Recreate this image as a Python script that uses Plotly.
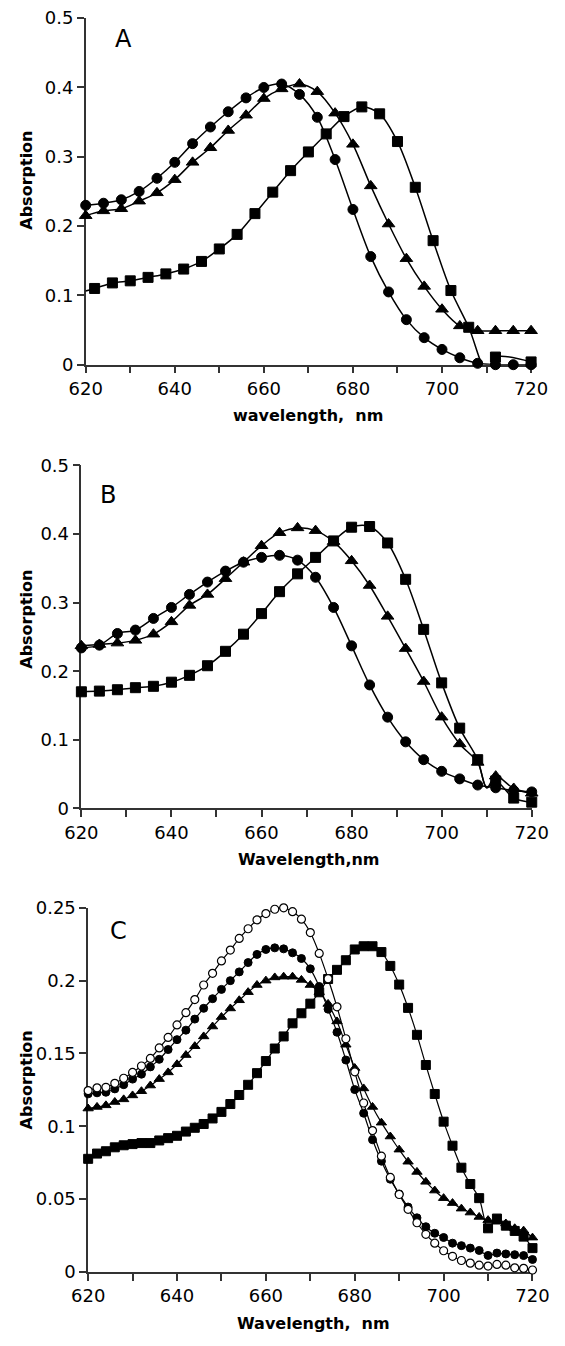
import plotly.graph_objects as go

W, H = 565, 1346

# ---------------- Panel A (every 4 nm) ----------------
wl_A = list(range(620, 721, 4))
A_circles = [0.230, 0.233, 0.238, 0.250, 0.269, 0.292, 0.319, 0.343, 0.365, 0.385,
             0.400, 0.405, 0.390, 0.357, 0.296, 0.224, 0.156, 0.105, 0.065, 0.039,
             0.022, 0.010, 0.002, 0.0, 0.0, 0.0]
A_triangles = [0.215, 0.222, 0.225, 0.236, 0.248, 0.267, 0.292, 0.313, 0.338, 0.360,
               0.384, 0.398, 0.405, 0.394, 0.363, 0.318, 0.258, 0.203, 0.153, 0.113,
               0.080, 0.056, 0.049, 0.049, 0.049, 0.049]
wl_A_sq = [618] + list(range(622, 707, 4)) + [710, 712, 720]
A_squares = [0.103,
             0.110, 0.118, 0.121, 0.126, 0.131, 0.138, 0.149, 0.167, 0.188, 0.218,
             0.249, 0.280, 0.307, 0.333, 0.358, 0.372, 0.362, 0.322, 0.256, 0.179,
             0.107, 0.054,
             -0.010, 0.011, 0.004]
A_sq_nomark = [618, 710]

# ---------------- Panel B (every 4 nm) ----------------
wl_B = list(range(620, 721, 4))
B_circles = [0.234, 0.238, 0.255, 0.260, 0.277, 0.293, 0.312, 0.330, 0.346, 0.359,
             0.366, 0.369, 0.362, 0.337, 0.293, 0.237, 0.180, 0.133, 0.097, 0.071,
             0.054, 0.043, 0.034, 0.030, 0.026, 0.024]
wl_B2 = list(range(620, 709, 4)) + [710, 712, 716, 720]
B_triangles = [0.237, 0.239, 0.241, 0.245, 0.254, 0.272, 0.296, 0.312, 0.335, 0.359,
               0.383, 0.402, 0.409, 0.405, 0.389, 0.361, 0.325, 0.280, 0.233, 0.185,
               0.133, 0.094, 0.067, 0.030, 0.047, 0.029, 0.022]
B_squares = [0.170, 0.171, 0.173, 0.176, 0.178, 0.184, 0.194, 0.208, 0.229, 0.254,
             0.284, 0.316, 0.342, 0.366, 0.390, 0.410, 0.411, 0.387, 0.334, 0.261,
             0.183, 0.117, 0.071, 0.030, 0.040, 0.015, 0.009]
B_nomark = [710]

# ---------------- Panel C (every 2 nm) ----------------
wl_C = list(range(620, 721, 2))
C_open = [0.1245, 0.1264, 0.1268, 0.1295, 0.1330, 0.1370, 0.1414, 0.1466, 0.1538, 0.1610,
          0.1696, 0.1780, 0.1870, 0.1970, 0.2050, 0.2135, 0.2210, 0.2290, 0.2356, 0.2417,
          0.2460, 0.2490, 0.2500, 0.2473, 0.2422, 0.2330, 0.2187, 0.2013, 0.1820, 0.1601,
          0.1374, 0.1160, 0.0971, 0.0795, 0.0649, 0.0532, 0.0430, 0.0338, 0.0259, 0.0198,
          0.0146, 0.0108, 0.0079, 0.0061, 0.0047, 0.0041, 0.0052, 0.0047, 0.0029, 0.0025,
          0.0014]
C_filled = [0.1223, 0.1230, 0.1234, 0.1257, 0.1286, 0.1324, 0.1358, 0.1408, 0.1460, 0.1527,
            0.1595, 0.1660, 0.1736, 0.1810, 0.1876, 0.1940, 0.2000, 0.2060, 0.2124, 0.2180,
            0.2214, 0.2225, 0.2218, 0.2191, 0.2152, 0.2081, 0.1960, 0.1804, 0.1646, 0.1455,
            0.1252, 0.1090, 0.0908, 0.0761, 0.0637, 0.0536, 0.0446, 0.0372, 0.0311, 0.0266,
            0.0237, 0.0198, 0.0181, 0.0164, 0.0148, 0.0114, 0.0130, 0.0124, 0.0119, 0.0113,
            0.0086]
C_triangles = [0.1122, 0.1133, 0.1144, 0.1167, 0.1185, 0.1212, 0.1241, 0.1280, 0.1324, 0.1370,
               0.1426, 0.1489, 0.1550, 0.1617, 0.1685, 0.1750, 0.1809, 0.1865, 0.1921, 0.1970,
               0.2000, 0.2022, 0.2027, 0.2027, 0.2005, 0.1970, 0.1921, 0.1840, 0.1720, 0.1560,
               0.1400, 0.1260, 0.1133, 0.1025, 0.0930, 0.0840, 0.0757, 0.0687, 0.0619, 0.0559,
               0.0507, 0.0473, 0.0435, 0.0408, 0.0378, 0.0356, 0.0345, 0.0333, 0.0300, 0.0284,
               0.0236]
C_squares = [0.0777, 0.0813, 0.0829, 0.0856, 0.0870, 0.0878, 0.0885, 0.0885, 0.0903, 0.0919,
             0.0935, 0.0964, 0.0990, 0.1016, 0.1054, 0.1099, 0.1153, 0.1215, 0.1285, 0.1365,
             0.1448, 0.1534, 0.1617, 0.1707, 0.1776, 0.1842, 0.1920, 0.2011, 0.2074, 0.2140,
             0.2214, 0.2236, 0.2236, 0.2196, 0.2101, 0.1973, 0.1813, 0.1628, 0.1421, 0.1222,
             0.1032, 0.0867, 0.0716, 0.0604, 0.0507, 0.0300, 0.0367, 0.0318, 0.0282, 0.0243,
             0.0164]

# ---------------- ticks / labels ----------------
x_major = [620, 640, 660, 680, 700, 720]
x_major_labels = ["620", "640", "660", "680", "700", "720"]
x_minor = [630, 650, 670, 690, 710]
yAB_ticks = [0, 0.1, 0.2, 0.3, 0.4, 0.5]
yAB_labels = ["0", "0.1", "0.2", "0.3", "0.4", "0.5"]
yC_ticks = [0, 0.05, 0.1, 0.15, 0.2, 0.25]
yC_labels = ["0", "0.05", "0.1", "0.15", "0.2", "0.25"]

FONT = "DejaVu Sans"
AX = "#333333"

fig = go.Figure()


def add(x, y, sym, size, ax, fill="black", nomark=(), lw=1.5, mlw=1.0):
    sizes = [0 if xi in nomark else size for xi in x]
    mlws = [0 if xi in nomark else mlw for xi in x]
    fig.add_trace(go.Scatter(
        x=x, y=y, mode="lines+markers",
        line=dict(color="black", width=lw, shape="spline", smoothing=0.9),
        marker=dict(symbol=sym, size=sizes, color=fill, opacity=1,
                    line=dict(color="black", width=mlws)),
        xaxis="x" + ax, yaxis="y" + ax, cliponaxis=False,
        showlegend=False, hoverinfo="skip"))


# Panel A
add(wl_A_sq, A_squares, "square", 10, "", nomark=A_sq_nomark)
add(wl_A, A_triangles, "triangle-up", 11, "")
add(wl_A, A_circles, "circle", 10, "")
# Panel B
add(wl_B2, B_squares, "square", 10, "2", nomark=B_nomark)
add(wl_B2, B_triangles, "triangle-up", 11, "2", nomark=B_nomark)
add(wl_B, B_circles, "circle", 10, "2")
# Panel C
add(wl_C, C_squares, "square", 9, "3", lw=1.2)
add(wl_C, C_triangles, "triangle-up", 9, "3", lw=1.2)
add(wl_C, C_filled, "circle", 8, "3", lw=1.2)
add(wl_C, C_open, "circle", 8, "3", fill="white", lw=1.2, mlw=1.2)


def px_x(p):
    return p / W


def px_y(p):
    return 1 - p / H


def xaxis(dom, anchor):
    return dict(domain=dom, anchor=anchor, range=[620, 720],
                tickmode="array", tickvals=x_major, ticktext=x_major_labels,
                ticks="outside", ticklen=7, tickwidth=1.5, tickcolor=AX,
                showline=True, linecolor=AX, linewidth=1.5,
                showgrid=False, zeroline=False, layer="below traces",
                tickfont=dict(family=FONT, size=18, color="black"),
                minor=dict(tickvals=x_minor, ticks="outside", ticklen=7,
                           tickwidth=1.5, tickcolor=AX, showgrid=False),
                fixedrange=True)


def yaxis(dom, anchor, rng, tv, tt):
    return dict(domain=dom, anchor=anchor, range=rng,
                tickmode="array", tickvals=tv, ticktext=tt,
                ticks="outside", ticklen=7, tickwidth=1.5, tickcolor=AX,
                showline=True, linecolor=AX, linewidth=1.5,
                showgrid=False, zeroline=False, layer="below traces",
                tickfont=dict(family=FONT, size=18, color="black"),
                fixedrange=True)


fig.update_layout(
    width=W, height=H,
    margin=dict(l=0, r=0, t=0, b=0),
    paper_bgcolor="white", plot_bgcolor="white",
    xaxis=xaxis([px_x(73.1), px_x(547.0)], "y"),
    yaxis=yaxis([px_y(359.3), px_y(7.3)], "x", [0, 0.5], yAB_ticks, yAB_labels),
    xaxis2=xaxis([px_x(68.5), px_x(547.7)], "y2"),
    yaxis2=yaxis([px_y(810.0), px_y(461.7)], "x2", [0, 0.5], yAB_ticks, yAB_labels),
    xaxis3=xaxis([px_x(75.7), px_x(548.5)], "y3"),
    yaxis3=yaxis([px_y(1281.0), px_y(911.0)], "x3", [0, 0.25], yC_ticks, yC_labels),
)

annots = [
    # panel letters
    ("A", 113.5, 28.5, 24, False, 0),
    ("B", 97.0, 492.0, 24, False, 0),
    ("C", 108.0, 935.0, 24, False, 0),
    # x titles
    ("wavelength,\u00a0 nm", 310.0, 411.0, 16, True, 0),
    ("Wavelength,nm", 311.0, 862.0, 16, True, 0),
    ("Wavelength,\u00a0 nm", 316.0, 1333.0, 16, True, 0),
    # y titles
    ("Absorption", 10.0, 172.0, 16, True, -90),
    ("Absorption", 10.0, 618.0, 16, True, -90),
    ("Absorption", 10.0, 1086.0, 16, True, -90),
]
for text, x, y, size, bold, ang in annots:
    fig.add_annotation(
        text=("<b>%s</b>" % text) if bold else text,
        xref="paper", yref="paper", x=px_x(x), y=px_y(y),
        xanchor="center", yanchor="middle", showarrow=False, textangle=ang,
        font=dict(family=FONT, size=size, color="black"))

fig.write_html(
    "out.html",
    config={"displayModeBar": False},
    post_script="document.body.style.margin='0';document.body.style.overflow='hidden';")
